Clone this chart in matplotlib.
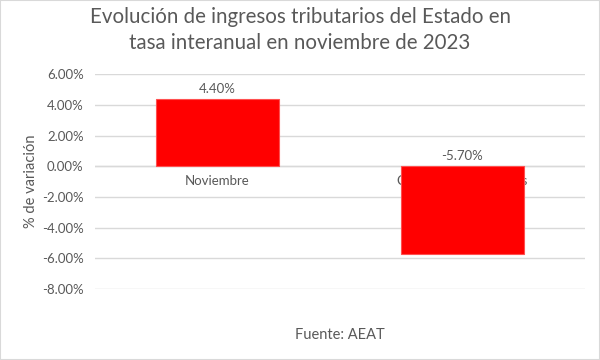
import matplotlib.pyplot as plt
from matplotlib.patches import Rectangle

categorias = ["Noviembre", "Conjunto de 11 meses"]
variacion = [4.40, -5.70]
ticks_y = [6, 4, 2, 0, -2, -4, -6, -8]

plt.rcParams["font.family"] = ["Lato", "DejaVu Sans"]
gris = "#595959"

fig = plt.figure(figsize=(6, 3.6), dpi=100)
ax = fig.add_axes([0.158, 0.197, 0.817, 0.597])

x = list(range(len(categorias)))
ax.bar(x, variacion, width=0.5, color="#ff0000", edgecolor="#ff5050", linewidth=0.8, zorder=3)

for xi, v in zip(x, variacion):
    ax.text(xi, (v if v > 0 else 0) + 0.25, f"{v:.2f}%", ha="center", va="bottom",
            fontsize=9.5, color=gris, zorder=4)

# etiquetas de categoría bajo la línea del cero (la negativa queda tapada por la barra)
for xi, c in zip(x, categorias):
    ax.text(xi, -0.55, c, ha="center", va="top", fontsize=9.5, color=gris, zorder=1)

ax.set_xlim(-0.5, 1.5)
ax.set_ylim(-8, 6)
ax.set_yticks(ticks_y)
ax.set_yticklabels([f"{t:.2f}%" for t in ticks_y], fontsize=9.5, color=gris)
ax.set_xticks([])
ax.tick_params(axis="y", length=0, pad=8)
ax.grid(axis="y", color="#d9d9d9", linewidth=1, zorder=0)
ax.axhline(0, color="#d9d9d9", linewidth=1, zorder=2)
for s in ax.spines.values():
    s.set_visible(False)

ax.set_ylabel("% de variación", fontsize=10.5, color=gris, labelpad=3)
ax.set_xlabel("Fuente: AEAT", fontsize=10.5, color=gris, labelpad=28)

fig.suptitle("Evolución de ingresos tributarios del Estado en\ntasa interanual en noviembre de 2023",
             fontsize=14.8, color=gris, y=0.98, linespacing=1.35)

fig.patches.append(Rectangle((0, 0), 1, 1, transform=fig.transFigure, fill=False,
                             edgecolor="#d9d9d9", linewidth=1.5))

fig.savefig("out.png", dpi=100, facecolor="white")
